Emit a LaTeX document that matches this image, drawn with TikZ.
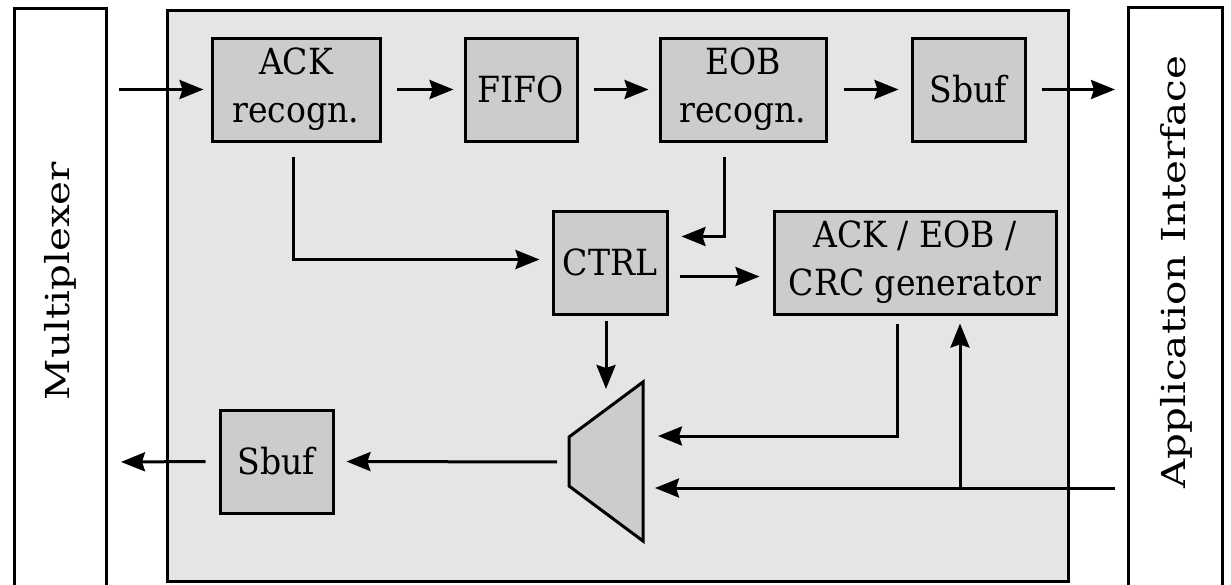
\documentclass[tikz,border=0pt]{standalone}
\usepackage{fontspec}
\setmainfont{DejaVu Serif}[FakeStretch=0.92]
\usetikzlibrary{arrows.meta}
\definecolor{panel}{HTML}{E5E5E5}
\definecolor{blockfill}{HTML}{CCCCCC}
\tikzset{
  every node/.style={font=\fontsize{36}{48}\selectfont},
  block/.style={draw=black, fill=blockfill, line width=3pt, align=center, inner sep=0pt},
  wire/.style={line width=3pt},
  arr/.style={wire, -{Stealth[length=24pt,width=19pt,inset=3pt]}},
  sidelabel/.style={rotate=90, font=\fontsize{33}{44}\selectfont},
}
\begin{document}
\begin{tikzpicture}[x=1pt,y=-1pt]
\clip (0,0) rectangle (1231,584);
\fill[white] (0,0) rectangle (1231,584);

% side interfaces, running off the lower edge
\draw[line width=3pt, fill=white] (14,620) -- (14,8) -- (106,8) -- (106,620);
\draw[line width=3pt, fill=white] (1128,620) -- (1128,7) -- (1222,7) -- (1222,620);
\node[sidelabel] (mplx) at (60,281) {\scalebox{1.33}[1]{Multiplexer}};
\node[sidelabel] (app) at (1176,272) {\scalebox{1.33}[1]{Application Interface}};
\coordinate (mplxR) at (106,462);
\coordinate (appL) at (1128,488);

% main unit
\draw[line width=3pt, fill=panel] (167,10) rectangle (1068,581);

% receive path
\node[block, minimum width=168pt, minimum height=103pt] (ack) at (296,89.5) {ACK\\recogn.};
\node[block, minimum width=112pt, minimum height=103pt] (fifo) at (521,89.5) {FIFO};
\node[block, minimum width=166pt, minimum height=103pt] (eob) at (743,89.5) {EOB\\recogn.};
\node[block, minimum width=113pt, minimum height=103pt] (sbufT) at (968.5,89.5) {Sbuf};

% control and generator
\node[block, minimum width=114pt, minimum height=103pt] (ctrl) at (610,262.5) {CTRL};
\node[block, minimum width=282pt, minimum height=103pt] (gen) at (915,262.5) {ACK / EOB /\\CRC generator};

% transmit path
\node[block, minimum width=113pt, minimum height=103pt] (sbufB) at (276.5,461.5) {Sbuf};
\draw[line width=3pt, fill=blockfill, line join=miter]
  (569,437) -- (643,382) -- (643,541) -- (569,486) -- cycle;
\coordinate (muxL) at (569,462);
\coordinate (muxA) at (643,436);
\coordinate (muxB) at (643,488);
\coordinate (muxSel) at (606,409);
\coordinate (split) at (960,488);
\coordinate (inL) at (119,89.5);

% receive connectors
\draw[arr, shorten >=7pt] (inL) -- (ack.west);
\draw[arr, shorten <=15pt, shorten >=10pt] (ack.east) -- (fifo.west);
\draw[arr, shorten <=15pt, shorten >=10pt] (fifo.east) -- (eob.west);
\draw[arr, shorten <=16pt, shorten >=12pt] (eob.east) -- (sbufT.west);
\draw[arr, shorten <=15pt, shorten >=13pt] (sbufT.east) -- (appL |- sbufT.east);

% control connectors
\draw[arr, shorten <=14pt, shorten >=12pt] ([xshift=-3pt]ack.south) |- ([yshift=3pt]ctrl.west);
\draw[arr, shorten <=14pt, shorten >=13pt] ([xshift=-19pt]eob.south) |- ([yshift=26pt]ctrl.east);
\draw[arr, shorten <=11pt, shorten >=13pt] ([yshift=-14pt]ctrl.east) -- ([yshift=-14pt]gen.west);
\draw[arr, shorten <=5pt, shorten >=20pt] ([xshift=-4pt]ctrl.south) -- (muxSel);

% transmit connectors
\draw[arr, shorten <=8pt, shorten >=15pt] ([xshift=-18pt]gen.south) |- (muxA);
\draw[arr, shorten <=13pt, shorten >=12pt] (appL) -- (muxB);
\draw[arr, shorten >=8pt] (split) -- (split |- gen.south);
\draw[arr, shorten <=12pt, shorten >=12pt] (muxL) -- (sbufB.east);
\draw[arr, shorten <=13pt, shorten >=15pt] (sbufB.west) -- (mplxR);
\end{tikzpicture}
\end{document}
